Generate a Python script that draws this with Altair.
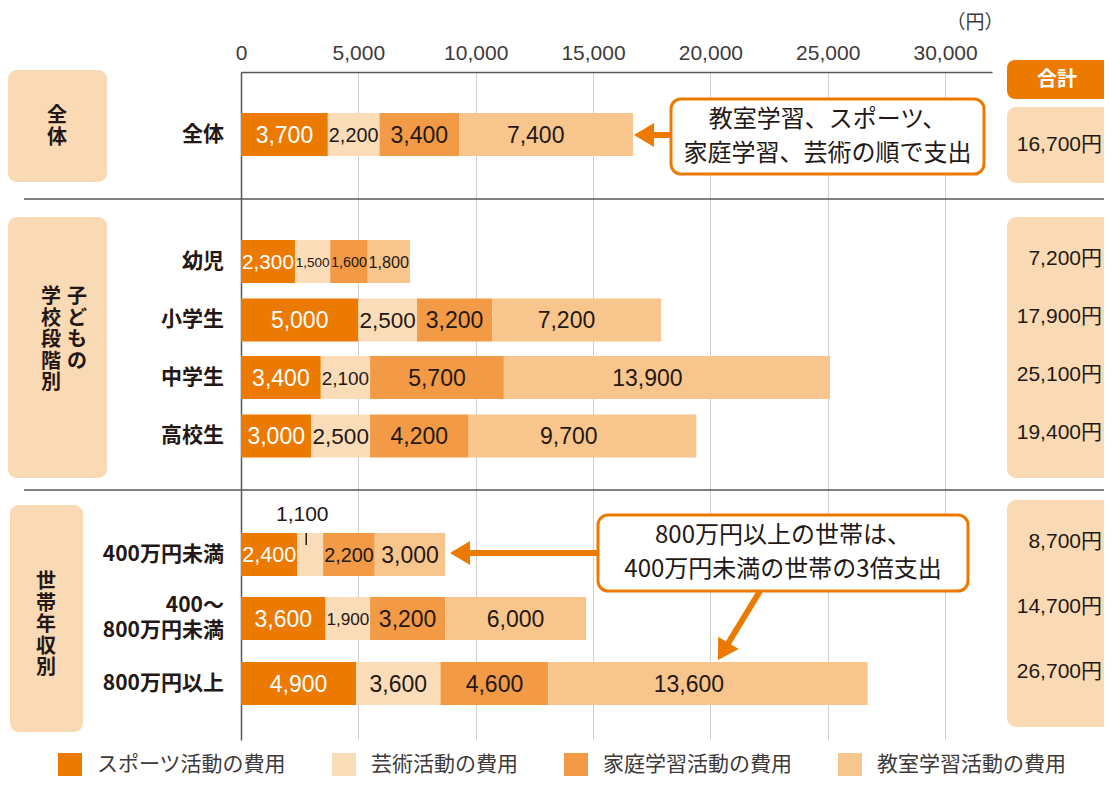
import math
import altair as alt
import pandas as pd

# ---------------- data ----------------
rows = ["全体", "幼児", "小学生", "中学生", "高校生", "400万円未満", "400〜800万円未満", "800万円以上"]
row_labels = ["全体", "幼児", "小学生", "中学生", "高校生", "400万円未満", "400〜\n800万円未満", "800万円以上"]
categories = ["スポーツ活動の費用", "芸術活動の費用", "家庭学習活動の費用", "教室学習活動の費用"]
sports = [3700, 2300, 5000, 3400, 3000, 2400, 3600, 4900]
arts = [2200, 1500, 2500, 2100, 2500, 1100, 1900, 3600]
home = [3400, 1600, 3200, 5700, 4200, 2200, 3200, 4600]
classroom = [7400, 1800, 7200, 13900, 9700, 3000, 6000, 13600]
totals = [16700, 7200, 17900, 25100, 19400, 8700, 14700, 26700]
tick_values = [0, 5000, 10000, 15000, 20000, 25000, 30000]
group_columns = [["全体"], ["子どもの", "学校段階別"], ["世帯年収別"]]
unit_label = "（円）"
total_header = "合計"
note1 = "教室学習、スポーツ、\n家庭学習、芸術の順で支出"
note2 = "800万円以上の世帯は、\n400万円未満の世帯の3倍支出"

# ---------------- style ----------------
colors = ["#EC7A00", "#FBDCB9", "#F29A45", "#F8C58D"]
BOX_FILL = "#FADAB4"
ORANGE = "#EC7A00"
TEXT = "#231815"
AXIS_TEXT = "#3E3A39"
LINE = "#595757"
JP = "Noto Sans CJK JP"
NUM = "Liberation Sans"
NUM_JP = "Liberation Sans, Noto Sans CJK JP"

# ---------------- layout (page pixels) ----------------
PLOT_L, PLOT_T = 241, 72
W, H = 751, 668
SVG_W, SVG_H = 1096, 768
XMAX = 32000
PXU = W / XMAX


def xu(px):
    return (px - PLOT_L) / PXU


def yu(py):
    return py - PLOT_T


ROW_Y = [134.5, 261.5, 320, 377.5, 436, 554.5, 618.5, 683.5]
BAR_H = 43
ROW_LH = 25
TOTAL_Y = [145, 259, 317, 375, 433, 542, 607, 672]
GROUP_BOXES = [(8, 107, 70, 182), (8, 107, 217, 478), (10, 83, 505, 732)]
GROUP_COL_POS = [[(57, 106)], [(77, 287), (51, 287)], [(46, 572)]]
TOTAL_BOXES = [(1007, 1124, 107, 183), (1007, 1124, 217, 478), (1007, 1124, 500, 727)]
HEADER_BOX = (1007, 1124, 60, 99)
SEPARATORS = [199, 490]
NOTE_BOXES = [(671, 984, 99, 174), (598, 968, 515, 591)]
NOTE_LH = 34
ARROWS = [(671, 135, 634, 135), (598, 553, 450, 553), (760, 591, 718, 660)]
LEGEND_TOP = 753

XS = alt.Scale(domain=[0, XMAX], nice=False, zero=False)
YS = alt.Scale(domain=[0, H], reverse=True, nice=False, zero=False)

# ---------------- tables ----------------
seg_recs, lab_recs, above_recs, tick_recs = [], [], [], []
series = [sports, arts, home, classroom]
for i, r in enumerate(rows):
    cum = 0
    for ci, cat in enumerate(categories):
        v = series[ci][i]
        seg_recs.append({"row": r, "cat": cat, "x1": cum, "x2": cum + v,
                         "y1": yu(ROW_Y[i] - BAR_H / 2), "y2": yu(ROW_Y[i] + BAR_H / 2)})
        seg_px = v * PXU
        text = f"{v:,}"
        if seg_px < 30:
            cx = cum + v / 2
            above_recs.append({"x": cx - 8 / PXU, "y": yu(ROW_Y[i] - BAR_H / 2 - 18), "text": text})
            tick_recs.append({"x1": cx - 4 / PXU, "x2": cx - 4 / PXU,
                              "y1": yu(ROW_Y[i] - BAR_H / 2), "y2": yu(ROW_Y[i] - BAR_H / 2 + 12)})
        else:
            frac = 0.44 if (ci == 3 and v >= 7000) else 0.5
            fs = min(23.0, seg_px * 0.96 / 2.5)
            lab_recs.append({"x": cum + v * frac, "y": yu(ROW_Y[i] + 1), "text": text,
                             "fs": fs, "white": ci == 0})
        cum += v

segs = pd.DataFrame(seg_recs)
labs = pd.DataFrame(lab_recs)
above = pd.DataFrame(above_recs)
ticks_df = pd.DataFrame(tick_recs)


def ml_center(y, text, lh):
    n = text.count("\n") + 1
    return y - (n - 1) * lh / 2


rowlab = pd.DataFrame({"x": [xu(224)] * len(rows),
                       "y": [yu(ml_center(v, t, ROW_LH)) for v, t in zip(ROW_Y, row_labels)],
                       "text": row_labels})
tot = pd.DataFrame({"x": [xu(1102)] * len(totals), "y": [yu(v) for v in TOTAL_Y],
                    "text": [f"{t:,}円" for t in totals]})

grp_recs = []
for cols, poss in zip(group_columns, GROUP_COL_POS):
    for s, (px, py) in zip(cols, poss):
        grp_recs.append({"x": xu(px), "y": yu(py), "text": "\n".join(list(s))})
grp = pd.DataFrame(grp_recs)


def rect_df(items):
    return pd.DataFrame([{"x1": xu(a), "x2": xu(b), "y1": yu(c), "y2": yu(d)} for a, b, c, d in items])


peach_boxes = rect_df(GROUP_BOXES + TOTAL_BOXES)
header_box = rect_df([HEADER_BOX])
note_boxes = rect_df(NOTE_BOXES)
seps = pd.DataFrame([{"x1": xu(24), "x2": xu(1112), "y1": yu(s), "y2": yu(s)} for s in SEPARATORS])

HEAD = 12
line_recs, head_recs = [], []
for (sx, sy, tx, ty) in ARROWS:
    dx, dy = tx - sx, ty - sy
    n = math.hypot(dx, dy)
    ux, uy = dx / n, dy / n
    cx, cy = tx - HEAD * ux, ty - HEAD * uy
    line_recs.append({"x1": xu(sx), "x2": xu(cx), "y1": yu(sy), "y2": yu(cy)})
    ang = math.degrees(math.atan2(-uy, -ux)) % 360
    head_recs.append({"x": xu(cx), "y": yu(cy), "ang": ang})
arrow_lines = pd.DataFrame(line_recs)
arrow_heads = pd.DataFrame(head_recs)

notes = pd.DataFrame({"x": [xu((b[0] + b[1]) / 2) for b in NOTE_BOXES],
                      "y": [yu(ml_center((b[2] + b[3]) / 2, t, NOTE_LH)) for b, t in zip(NOTE_BOXES, [note1, note2])],
                      "text": [note1, note2]})
header_txt = pd.DataFrame({"x": [xu(1057)], "y": [yu(80)], "text": [total_header]})
unit_txt = pd.DataFrame({"x": [xu(975)], "y": [yu(23)], "text": [unit_label]})

# ---------------- layers ----------------
XAX = alt.Axis(orient="top", values=tick_values, format=",.0f", ticks=False, tickSize=0,
               labelPadding=9, labelFont=NUM, labelFontSize=21, labelColor=AXIS_TEXT,
               labelFlush=False, labelOverlap=False, grid=True, gridColor="#CFCFCF",
               gridWidth=1, domainColor=LINE, domainWidth=1.5, title=None)
YAX = alt.Axis(labels=False, ticks=False, grid=False, title=None,
               domainColor=LINE, domainWidth=1.5)


def X(f):
    return alt.X(f, type="quantitative", scale=XS, axis=XAX)


def Y(f):
    return alt.Y(f, type="quantitative", scale=YS, axis=YAX)


def rect_layer(df, **mark):
    return alt.Chart(df).mark_rect(**mark).encode(x=X("x1"), x2="x2:Q", y=Y("y1"), y2="y2:Q")


def rule_layer(df, **mark):
    return alt.Chart(df).mark_rule(**mark).encode(x=X("x1"), x2="x2:Q", y=Y("y1"), y2="y2:Q")


def text_layer(df, **mark):
    return alt.Chart(df).mark_text(**mark).encode(x=X("x"), y=Y("y"), text="text:N")


bars = alt.Chart(segs).mark_bar().encode(
    x=X("x1"), x2="x2:Q", y=Y("y1"), y2="y2:Q",
    color=alt.Color("cat:N", scale=alt.Scale(domain=categories, range=colors),
                    legend=alt.Legend(title=None, orient="none", legendX=58 - PLOT_L,
                                      legendY=LEGEND_TOP - PLOT_T,
                                      direction="horizontal", columns=4, symbolType="square",
                                      symbolSize=576, symbolStrokeWidth=0, symbolOpacity=1,
                                      labelFont=JP, labelFontSize=21, labelColor=AXIS_TEXT,
                                      labelOffset=15, columnPadding=46, padding=0, labelLimit=0)))

seg_labels = alt.Chart(labs).mark_text(font=NUM, baseline="middle", align="center").encode(
    x=X("x"), y=Y("y"), text="text:N",
    size=alt.Size("fs:Q", scale=None, legend=None),
    color=alt.condition("datum.white", alt.value("white"), alt.value(TEXT)))

layers = [
    rect_layer(peach_boxes, fill=BOX_FILL, cornerRadius=9),
    rect_layer(header_box, fill=ORANGE, cornerRadius=8),
    rule_layer(seps, color=LINE, strokeWidth=1.5),
    bars,
    seg_labels,
    text_layer(above, font=NUM, fontSize=21, color=TEXT, align="center", baseline="middle"),
    rule_layer(ticks_df, color=TEXT, strokeWidth=1.5),
    text_layer(rowlab, font=JP, fontSize=21, fontWeight="bold", color=TEXT, align="right",
               baseline="middle", lineBreak="\n", lineHeight=ROW_LH),
    text_layer(tot, font=NUM_JP, fontSize=21, color=TEXT, align="right", baseline="middle"),
    text_layer(grp, font=JP, fontSize=20, fontWeight="bold", color=TEXT, align="center",
               baseline="top", lineBreak="\n", lineHeight=21.5),
    text_layer(header_txt, font=JP, fontSize=20, fontWeight="bold", color="white",
               align="center", baseline="middle"),
    text_layer(unit_txt, font=JP, fontSize=19, color=AXIS_TEXT, align="center", baseline="middle"),
    rect_layer(note_boxes, fill="white", stroke=ORANGE, strokeWidth=3, cornerRadius=10),
    text_layer(notes, font=JP, fontSize=24, color=TEXT, align="center", baseline="middle",
               lineBreak="\n", lineHeight=NOTE_LH),
    rule_layer(arrow_lines, color=ORANGE, strokeWidth=6),
    alt.Chart(arrow_heads).mark_point(shape="M-1,0L0.67,-1L0.67,1Z", filled=True, size=576,
                                      color=ORANGE, opacity=1, strokeWidth=0).encode(
        x=X("x"), y=Y("y"), angle=alt.Angle("ang:Q", scale=None)),
]

chart = alt.layer(*layers).properties(
    width=W, height=H,
    padding={"left": PLOT_L - 8, "top": PLOT_T - 8,
             "right": SVG_W - (PLOT_L - 8) - W, "bottom": SVG_H - (PLOT_T - 8) - H},
    autosize=alt.AutoSizeParams(type="none"),
    background="white",
).configure_view(stroke=None)

chart.save("out.html", embed_options={"renderer": "svg", "actions": False})
